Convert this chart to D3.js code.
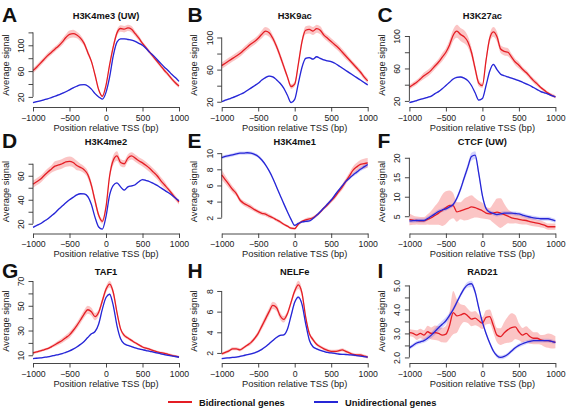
<!DOCTYPE html>
<html><head><meta charset="utf-8">
<script src="https://cdn.jsdelivr.net/npm/d3@7"></script>
<style>body{margin:0;background:#fff}svg{display:block}text{font-family:"Liberation Sans",Arial,Helvetica,sans-serif}</style>
</head><body><svg id="c" width="567" height="409"></svg>
<script>
// ---------- DATA ----------
const positions = [-1000,-950,-900,-850,-800,-750,-700,-650,-600,-550,-500,-450,-400,-350,-300,-250,-200,-150,-100,-50,0,50,100,150,200,250,300,350,400,450,500,550,600,650,700,750,800,850,900,950,1000];
const xTicks = [-1000,-500,0,500,1000];
const seriesNames = ["Bidirectional genes","Unidirectional genes"];
const panelLetters = ["A","B","C","D","E","F","G","H","I"];
const panelTitles = ["H3K4me3 (UW)","H3K9ac","H3K27ac","H3K4me2","H3K4me1","CTCF (UW)","TAF1","NELFe","RAD21"];

// A: H3K4me3 (UW)
const aBi   = [61,66,72,78,84,89,94,99,105,112,117,118,116,111,103,89,75,54,31,21,38,70,98,119,126,125,127,125,118,111,103,96,89,82,75,68,61,55,48,42,37];
const aBiSe = [4,4,4,4,4,4,4,4,5,5,6,6,5,5,4,4,3,3,2,2,2,3,4,5,5,5,5,5,4,4,3,3,3,3,3,3,3,3,3,3,3];
const aUni  = [11,12.5,14,15.5,17,19,21,23,25.5,28,31,34,36.5,38.5,39,37,32,25,20,16.5,27,51,84,105,110,110,109,108,106,103,100,95,89,84,78,72,66,61,55,50,44];
const aUniSe= [1,1,1,1,1,1,1,1,1,1,1,1,1,1,1,1,1,1,1,1,1,1,1,1,1,1,1,1,1,1,1,1,1,1,1,1,1,1,1,1,1];
const aYTicks = [20,40,60,80,100,120];
const aYLabels = ["20","","60","","100",""];

// B: H3K9ac
const bBi   = [65,68,71,74,77,80,84,88,92,95,99,104,108,106,99,89,77,64,51,39,42,67,95,109,110,108,111,109,103,99,95,91,87,82,77,72,67,62,57,51,46];
const bBiSe = [4,4,4,4,4,4,4,4,4,4,4,5,5,5,4,4,4,4,3,3,3,3,4,5,5,5,5,5,4,4,4,4,4,4,4,3,3,3,3,3,3];
const bUni  = [20,22,23.5,25,27,29,31,34,37,40,43,47,50,52,51,47.5,43,37,28,19,23,43,63,74,75,73,76,74,72,71,70,68,65,62,59,56,53,50,47,44,41];
const bUniSe= [1,1,1,1,1,1,1,1,1,1,1,1,1,1,1,1,1,1,1,1,1,1,1,1,1,1,1,1,1,1,1,1,1,1,1,1,1,1,1,1,1];
const bYTicks = [20,40,60,80,100];
const bYLabels = ["20","","60","","100"];

// C: H3K27ac
const cBi   = [37,40,43,47,51,54,58,63,68,74,80,89,101,106,102,99,93,80,60,42,39,70,97,105,99,84,81,80,74,68,64,59,55,50,45,41,36.5,33,29.6,27,25];
const cBiSe = [3,3,3,3,4,4,4,4,4,5,5,6,7,8,8,8,7,6,5,4,3,4,5,6,6,5,5,5,4,4,4,3,3,3,3,3,2,2,2,2,2];
const cUni  = [18,19,20.5,22,23,24.5,26,29,31.5,35,39,43,47,49,49.5,48,45,39,30,21,23,39,56.5,65,58.5,53,51,49.5,48,46.5,45,43,41,39,36.5,34,31.5,30,28.5,26.5,25];
const cUniSe= [1,1,1,1,1,1,1,1,1,1,1,1,1,1,1,1,1,1,1,1,1,1,1,1,1,1,1,1,1,1,1,1,1,1,1,1,1,1,1,1,1];
const cYTicks = [20,40,60,80,100];
const cYLabels = ["20","","60","","100"];

// D: H3K4me2
const dBi   = [53,55,57,60,63,65.5,68,69,70,71.5,72,71,68.5,67,65,61,52,39,27,22,34,60,73,76.5,71,70,74.7,76.5,74.7,72.5,70.7,68.5,66,63,60,56,52.5,49,45.3,41.5,38];
const dBiSe = [3,3,3,3,3,3,4,4,4,4,4,4,4,3,3,3,3,3,2,2,2,3,4,4,3,3,3,3,3,3,3,3,3,3,3,3,3,2,2,2,2];
const dUni  = [17,18.5,20,22,24,26.5,29,32,34.7,37.5,40,42,44,45,44.8,42.7,36,25.3,17.3,15.5,26,44,52,54,50.7,48,50.7,51.5,52.5,55,56.8,56,55,53.5,52,50,48,46,44,41.5,39.2];
const dUniSe= [0.6,0.6,0.6,0.6,0.6,0.6,0.6,0.6,0.6,0.6,0.6,0.6,0.6,0.6,0.6,0.6,0.6,0.6,0.6,0.6,0.6,0.6,0.6,0.6,0.6,0.6,0.6,0.6,0.6,0.6,0.6,0.6,0.6,0.6,0.6,0.6,0.6,0.6,0.6,0.6,0.6];
const dYTicks = [20,30,40,50,60,70];
const dYLabels = ["20","","40","","60",""];

// E: H3K4me1
const eBi   = [7.3,6.7,6.1,5.5,5.0,4.2,3.8,3.55,3.3,3.0,2.75,2.55,2.45,2.2,2.0,1.75,1.5,1.2,0.96,0.7,0.65,1.2,1.55,1.75,1.85,2.0,2.3,2.7,3.2,3.6,4.1,4.6,5.2,5.8,6.5,7.2,7.9,8.3,8.6,8.7,8.8];
const eBiSe = [0.6,0.5,0.45,0.4,0.35,0.3,0.3,0.3,0.3,0.25,0.25,0.25,0.25,0.25,0.2,0.2,0.2,0.15,0.15,0.15,0.15,0.15,0.15,0.2,0.2,0.2,0.2,0.2,0.2,0.25,0.25,0.3,0.3,0.35,0.35,0.4,0.45,0.5,0.55,0.6,0.6];
const eUni  = [9.45,9.6,9.7,9.8,9.9,10.0,10.0,10.05,10.0,9.85,9.6,9.15,8.55,7.8,6.9,5.85,4.8,3.75,2.75,1.8,1.05,1.3,1.5,1.55,1.6,1.9,2.3,2.75,3.2,3.7,4.2,4.8,5.4,5.95,6.5,6.9,7.3,7.65,8.0,8.3,8.6];
const eUniSe= [0.2,0.2,0.2,0.2,0.2,0.2,0.2,0.2,0.2,0.2,0.2,0.2,0.15,0.15,0.15,0.15,0.15,0.15,0.15,0.15,0.15,0.15,0.15,0.15,0.15,0.15,0.15,0.15,0.15,0.15,0.15,0.15,0.15,0.15,0.2,0.2,0.2,0.25,0.25,0.3,0.3];
const eYTicks = [2,4,6,8,10];
const eYLabels = ["2","4","6","8","10"];

// F: CTCF (UW)
const fBi   = [4.2,4.0,3.9,3.8,3.8,4.2,4.6,5.2,5.8,6.5,7.2,7.8,7.7,6.1,6.4,6.7,7.0,7.4,7.2,6.8,6.4,5.8,5.6,5.8,6.05,5.8,5.4,5.0,4.6,4.4,4.2,4.0,3.9,3.6,3.4,3.2,3.0,2.7,2.3,2.3,2.3];
const fBiSe = [1.5,1.2,1.0,1.0,1.0,1.3,1.8,2.4,3.0,4.0,4.2,3.8,3.2,2.5,2.2,2.8,3.0,3.0,2.5,2.2,2.0,1.5,1.5,2.5,3.5,3.8,2.8,1.8,1.5,1.2,1.2,1.1,1.0,1.0,1.0,0.9,0.9,0.8,0.8,0.8,0.8];
const fUni  = [3.8,3.85,3.9,3.9,3.9,4.4,5.0,5.6,6.2,6.6,6.9,7.4,8.0,9.6,11.9,14.8,17.6,20.3,20.7,16.0,10.3,7.0,6.05,5.7,5.4,5.6,5.8,5.8,5.8,5.7,5.6,5.3,5.0,4.8,4.6,4.45,4.35,4.35,4.35,4.1,3.8];
const fUniSe= [0.5,0.5,0.5,0.5,0.5,0.5,0.5,0.5,0.5,0.5,0.5,0.5,0.5,0.6,0.7,0.8,0.9,1.0,1.0,0.8,0.6,0.5,0.5,0.5,0.5,0.5,0.5,0.5,0.5,0.5,0.5,0.5,0.5,0.5,0.5,0.5,0.5,0.5,0.5,0.5,0.5];
const fYTicks = [5,10,15,20];
const fYLabels = ["5","10","15","20"];

// G: TAF1
const gBi   = [11.9,12.7,13.5,14.4,15.3,16.8,18.5,20.2,22,24.2,26.5,30,34,38.5,43.3,46.8,45.2,41.2,44.7,54,63.3,67.5,60.7,44.7,31.3,26,23.9,22,20.1,18.4,16.7,15.7,14.8,13.7,12.7,12.1,11.6,10.8,10,9.3,8.7];
const gBiSe = [1,1,1,1,1,1.2,1.5,1.8,2,2.2,2.5,2.5,2.5,2.8,3,3.2,3.2,3,2.5,2.5,2.5,2.8,2.5,2,1.5,1.5,1.2,1.2,1,1,1,1,1,1,1,1,1,1,1,1,1];
const gUni  = [7.3,7.6,7.9,8.3,8.7,9.3,10,10.6,11.3,12.4,13.5,15,16.7,18.8,21.2,24.3,27.3,29.2,35.3,47.3,56.7,59.3,50,34,23.3,19.3,18,17,15.9,15.2,14.5,13.8,13.2,12.5,11.9,11.2,10.5,10,9.5,9,8.4];
const gUniSe= [0.6,0.6,0.6,0.6,0.6,0.6,0.6,0.6,0.6,0.6,0.6,0.6,0.6,0.6,0.6,0.6,0.6,0.6,0.6,0.6,0.8,0.8,0.8,0.6,0.6,0.6,0.6,0.6,0.6,0.6,0.6,0.6,0.6,0.6,0.6,0.6,0.6,0.6,0.6,0.6,0.6];
const gYTicks = [10,20,30,40,50,60,70];
const gYLabels = ["10","","30","","50","","70"];

// H: NELFe
const hBi   = [1.9,2.05,2.2,2.4,2.4,2.3,2.5,2.75,3.0,3.4,3.9,4.6,5.3,6.0,6.6,6.4,5.6,5.25,5.8,6.9,8.0,8.6,7.8,5.5,3.9,3.3,2.85,2.6,2.4,2.25,2.15,2.15,2.2,2.3,2.15,2.0,1.85,1.8,1.8,1.7,1.6];
const hBiSe = [0.15,0.15,0.15,0.15,0.15,0.15,0.15,0.15,0.2,0.2,0.25,0.3,0.35,0.35,0.35,0.35,0.35,0.3,0.25,0.25,0.3,0.4,0.35,0.25,0.2,0.2,0.15,0.15,0.15,0.15,0.15,0.15,0.15,0.15,0.15,0.15,0.15,0.15,0.15,0.15,0.15];
const hUni  = [1.46,1.5,1.53,1.57,1.6,1.67,1.75,1.83,1.9,2.0,2.15,2.35,2.6,2.9,3.2,3.5,3.7,3.75,4.3,5.6,6.9,7.4,6.7,4.85,3.26,2.6,2.4,2.25,2.15,2.05,2.0,1.95,1.9,1.87,1.85,1.82,1.8,1.75,1.7,1.65,1.6];
const hUniSe= [0.08,0.08,0.08,0.08,0.08,0.08,0.08,0.08,0.08,0.08,0.08,0.08,0.08,0.08,0.08,0.08,0.08,0.08,0.1,0.12,0.15,0.15,0.12,0.1,0.08,0.08,0.08,0.08,0.08,0.08,0.08,0.08,0.08,0.08,0.08,0.08,0.08,0.08,0.08,0.08,0.08];
const hYTicks = [2,4,6,8];
const hYLabels = ["2","4","6","8"];

// I: RAD21
const iBi   = [3.03,3.0,2.93,3.0,2.93,3.07,3.0,3.03,3.0,2.93,2.97,3.33,3.87,3.73,3.77,3.83,3.73,3.6,3.64,3.53,3.43,3.67,3.7,3.33,2.93,2.87,3.03,3.16,3.24,3.27,3.07,2.93,3.0,2.87,2.8,2.8,2.73,2.7,2.7,2.67,2.63];
const iBiSe = [0.15,0.15,0.2,0.2,0.2,0.25,0.25,0.3,0.3,0.3,0.35,0.55,0.9,0.7,0.45,0.35,0.3,0.3,0.3,0.25,0.25,0.3,0.3,0.3,0.3,0.35,0.45,0.55,0.6,0.5,0.35,0.3,0.3,0.3,0.25,0.25,0.2,0.25,0.3,0.3,0.25];
const iUni  = [2.4,2.5,2.6,2.65,2.7,2.8,2.93,3.08,3.24,3.38,3.53,3.75,4.0,4.3,4.6,4.87,5.03,5.07,4.73,4.07,3.47,3.0,2.6,2.27,2.07,2.0,2.04,2.13,2.27,2.4,2.5,2.57,2.63,2.67,2.7,2.7,2.7,2.7,2.7,2.67,2.63];
const iUniSe= [0.08,0.08,0.08,0.08,0.09,0.1,0.12,0.14,0.15,0.15,0.14,0.12,0.1,0.1,0.1,0.1,0.12,0.13,0.12,0.1,0.08,0.08,0.08,0.08,0.08,0.08,0.08,0.08,0.08,0.08,0.08,0.08,0.08,0.08,0.08,0.08,0.08,0.08,0.08,0.08,0.08];
const iYTicks = [2.0,2.5,3.0,3.5,4.0,4.5,5.0];
const iYLabels = ["2.0","","3.0","","4.0","","5.0"];

// ---------- BUILD ----------
const panels = [
  {bi:aBi,biSe:aBiSe,uni:aUni,uniSe:aUniSe,ticks:aYTicks,labels:aYLabels},
  {bi:bBi,biSe:bBiSe,uni:bUni,uniSe:bUniSe,ticks:bYTicks,labels:bYLabels},
  {bi:cBi,biSe:cBiSe,uni:cUni,uniSe:cUniSe,ticks:cYTicks,labels:cYLabels},
  {bi:dBi,biSe:dBiSe,uni:dUni,uniSe:dUniSe,ticks:dYTicks,labels:dYLabels},
  {bi:eBi,biSe:eBiSe,uni:eUni,uniSe:eUniSe,ticks:eYTicks,labels:eYLabels},
  {bi:fBi,biSe:fBiSe,uni:fUni,uniSe:fUniSe,ticks:fYTicks,labels:fYLabels},
  {bi:gBi,biSe:gBiSe,uni:gUni,uniSe:gUniSe,ticks:gYTicks,labels:gYLabels},
  {bi:hBi,biSe:hBiSe,uni:hUni,uniSe:hUniSe,ticks:hYTicks,labels:hYLabels},
  {bi:iBi,biSe:iBiSe,uni:iUni,uniSe:iUniSe,ticks:iYTicks,labels:iYLabels}
].map((p,i)=>Object.assign(p,{letter:panelLetters[i],title:panelTitles[i]}));

const RED="#e41d24", BLUE="#2626d6";
const RED_BAND="rgba(240,40,40,0.27)", BLUE_BAND="rgba(40,40,240,0.2)";
const colX=[0,188.7,376.4], rowY=[0,126.5,256];
const letterX=[2,187.5,377.5];
const L=33, R=179, T=21.5, B=106.5;
const fmtX=d3.format("d");

const svg=d3.select("#c");
svg.append("rect").attr("width",567).attr("height",409).attr("fill","#fff");

panels.forEach((p,i)=>{
  const col=i%3, row=Math.floor(i/3);
  const g=svg.append("g").attr("transform",`translate(${colX[col]},${rowY[row]})`);
  const lo=d3.min([...p.bi.map((v,k)=>v-p.biSe[k]),...p.uni.map((v,k)=>v-p.uniSe[k])]);
  const hi=d3.max([...p.bi.map((v,k)=>v+p.biSe[k]),...p.uni.map((v,k)=>v+p.uniSe[k])]);
  const pad=(hi-lo)*0.04;
  const x=d3.scaleLinear().domain([-1000,1000]).range([L,R]);
  const y=d3.scaleLinear().domain([lo-pad,hi+pad]).range([B,T]);
  const curve=d3.curveMonotoneX;
  const area=(m,s)=>d3.area().x((d,k)=>x(positions[k])).y0((d,k)=>y(m[k]-s[k])).y1((d,k)=>y(m[k]+s[k])).curve(curve)(m);
  const line=(m)=>d3.line().x((d,k)=>x(positions[k])).y(d=>y(d)).curve(curve)(m);
  g.append("path").attr("d",area(p.bi,p.biSe)).attr("fill",RED_BAND);
  g.append("path").attr("d",area(p.uni,p.uniSe)).attr("fill",BLUE_BAND);
  g.append("path").attr("d",line(p.bi)).attr("fill","none").attr("stroke",RED).attr("stroke-width",1.3);
  g.append("path").attr("d",line(p.uni)).attr("fill","none").attr("stroke",BLUE).attr("stroke-width",1.3);

  // x axis
  const xa=g.append("g").attr("transform",`translate(0,${B+0.5})`)
    .call(d3.axisBottom(x).tickValues(xTicks).tickSize(4.5).tickSizeOuter(0).tickPadding(3).tickFormat(fmtX));
  xa.select(".domain").attr("stroke","#333").attr("stroke-width",0.9);
  xa.selectAll(".tick line").attr("stroke","#333").attr("stroke-width",0.9);
  xa.selectAll(".tick text").attr("font-size",8.7).attr("fill","#222").attr("font-family","Liberation Sans, Arial, sans-serif");

  // y axis
  const ya=g.append("g").attr("transform",`translate(${L},0)`)
    .call(d3.axisLeft(y).tickValues(p.ticks).tickSize(4.5).tickSizeOuter(0).tickFormat((d,k)=>p.labels[k]));
  ya.select(".domain").remove();
  ya.append("line").attr("x1",0).attr("x2",0).attr("y1",y(p.ticks[0])).attr("y2",y(p.ticks[p.ticks.length-1])).attr("stroke","#333").attr("stroke-width",0.9);
  ya.selectAll(".tick line").attr("stroke","#333").attr("stroke-width",0.9);
  ya.selectAll(".tick text").attr("font-size",8.7).attr("fill","#222").attr("font-family","Liberation Sans, Arial, sans-serif")
    .attr("text-anchor","middle").attr("transform","rotate(-90)").attr("x",0).attr("y",-9).attr("dy",0);

  // labels
  g.append("text").attr("x",(L+R)/2).attr("y",130.5).attr("text-anchor","middle").attr("font-size",9.3).attr("fill","#222").text("Position relative TSS (bp)");
  g.append("text").attr("transform",`translate(8.5,${(T+B)/2+1}) rotate(-90)`).attr("text-anchor","middle").attr("font-size",9.3).attr("fill","#222").text("Average signal");
  g.append("text").attr("x",(L+R)/2).attr("y",18.5).attr("text-anchor","middle").attr("font-size",9.3).attr("font-weight","bold").attr("fill","#111").text(p.title);
  svg.append("text").attr("x",letterX[col]).attr("y",rowY[row]+21.5).attr("font-size",21).attr("font-weight","bold").attr("fill","#111").text(p.letter);
});

// legend
const legend=svg.append("g");
[[168,199,RED,seriesNames[0]],[314,345,BLUE,seriesNames[1]]].forEach(([lx,tx,c,t])=>{
  legend.append("line").attr("x1",lx).attr("x2",lx+24).attr("y1",402).attr("y2",402).attr("stroke",c).attr("stroke-width",2);
  legend.append("text").attr("x",tx).attr("y",405.5).attr("font-size",9.3).attr("font-weight","bold").attr("fill","#111").text(t);
});
</script></body></html>
